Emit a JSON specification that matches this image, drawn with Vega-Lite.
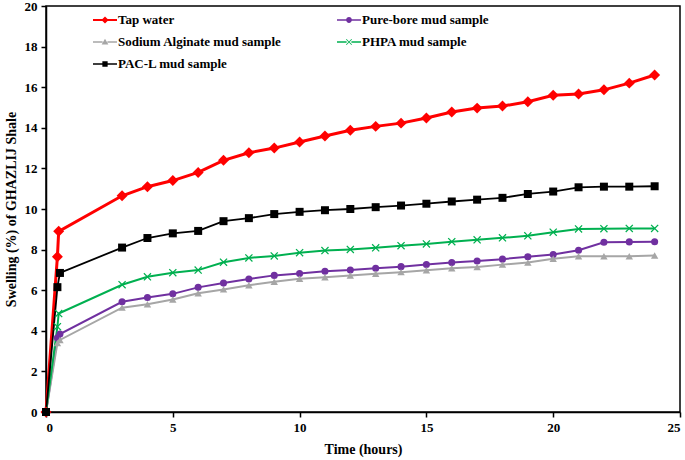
{
  "$schema": "https://vega.github.io/schema/vega-lite/v6.json",
  "width": 634,
  "height": 406,
  "autosize": "none",
  "padding": {"left": 46, "top": 6, "right": 5, "bottom": 48},
  "config": {
    "view": {"stroke": "#000", "strokeWidth": 1.5},
    "font": "Liberation Serif"
  },
  "datasets": {
    "swell": [
      {"series": "Tap water", "t": 0, "v": 0}, {"series": "Tap water", "t": 0.45, "v": 7.65}, {"series": "Tap water", "t": 0.5, "v": 8.9},
      {"series": "Tap water", "t": 3, "v": 10.65}, {"series": "Tap water", "t": 4, "v": 11.1}, {"series": "Tap water", "t": 5, "v": 11.4},
      {"series": "Tap water", "t": 6, "v": 11.8}, {"series": "Tap water", "t": 7, "v": 12.4}, {"series": "Tap water", "t": 8, "v": 12.77},
      {"series": "Tap water", "t": 9, "v": 13.0}, {"series": "Tap water", "t": 10, "v": 13.3}, {"series": "Tap water", "t": 11, "v": 13.6},
      {"series": "Tap water", "t": 12, "v": 13.88}, {"series": "Tap water", "t": 13, "v": 14.07}, {"series": "Tap water", "t": 14, "v": 14.23},
      {"series": "Tap water", "t": 15, "v": 14.48}, {"series": "Tap water", "t": 16, "v": 14.78}, {"series": "Tap water", "t": 17, "v": 14.97},
      {"series": "Tap water", "t": 18, "v": 15.07}, {"series": "Tap water", "t": 19, "v": 15.28}, {"series": "Tap water", "t": 20, "v": 15.6},
      {"series": "Tap water", "t": 21, "v": 15.67}, {"series": "Tap water", "t": 22, "v": 15.87}, {"series": "Tap water", "t": 23, "v": 16.2},
      {"series": "Tap water", "t": 24, "v": 16.6},

      {"series": "Pure-bore mud sample", "t": 0, "v": 0}, {"series": "Pure-bore mud sample", "t": 0.45, "v": 3.65}, {"series": "Pure-bore mud sample", "t": 0.55, "v": 3.84},
      {"series": "Pure-bore mud sample", "t": 3, "v": 5.43}, {"series": "Pure-bore mud sample", "t": 4, "v": 5.64}, {"series": "Pure-bore mud sample", "t": 5, "v": 5.82},
      {"series": "Pure-bore mud sample", "t": 6, "v": 6.14}, {"series": "Pure-bore mud sample", "t": 7, "v": 6.35}, {"series": "Pure-bore mud sample", "t": 8, "v": 6.55},
      {"series": "Pure-bore mud sample", "t": 9, "v": 6.73}, {"series": "Pure-bore mud sample", "t": 10, "v": 6.82}, {"series": "Pure-bore mud sample", "t": 11, "v": 6.93},
      {"series": "Pure-bore mud sample", "t": 12, "v": 6.99}, {"series": "Pure-bore mud sample", "t": 13, "v": 7.08}, {"series": "Pure-bore mud sample", "t": 14, "v": 7.16},
      {"series": "Pure-bore mud sample", "t": 15, "v": 7.27}, {"series": "Pure-bore mud sample", "t": 16, "v": 7.36}, {"series": "Pure-bore mud sample", "t": 17, "v": 7.44},
      {"series": "Pure-bore mud sample", "t": 18, "v": 7.53}, {"series": "Pure-bore mud sample", "t": 19, "v": 7.65}, {"series": "Pure-bore mud sample", "t": 20, "v": 7.76},
      {"series": "Pure-bore mud sample", "t": 21, "v": 7.97}, {"series": "Pure-bore mud sample", "t": 22, "v": 8.36}, {"series": "Pure-bore mud sample", "t": 23, "v": 8.38},
      {"series": "Pure-bore mud sample", "t": 24, "v": 8.39},

      {"series": "Sodium Alginate mud sample", "t": 0, "v": 0}, {"series": "Sodium Alginate mud sample", "t": 0.45, "v": 3.4}, {"series": "Sodium Alginate mud sample", "t": 0.55, "v": 3.55},
      {"series": "Sodium Alginate mud sample", "t": 3, "v": 5.14}, {"series": "Sodium Alginate mud sample", "t": 4, "v": 5.31}, {"series": "Sodium Alginate mud sample", "t": 5, "v": 5.54},
      {"series": "Sodium Alginate mud sample", "t": 6, "v": 5.85}, {"series": "Sodium Alginate mud sample", "t": 7, "v": 6.04}, {"series": "Sodium Alginate mud sample", "t": 8, "v": 6.24},
      {"series": "Sodium Alginate mud sample", "t": 9, "v": 6.42}, {"series": "Sodium Alginate mud sample", "t": 10, "v": 6.56}, {"series": "Sodium Alginate mud sample", "t": 11, "v": 6.64},
      {"series": "Sodium Alginate mud sample", "t": 12, "v": 6.72}, {"series": "Sodium Alginate mud sample", "t": 13, "v": 6.81}, {"series": "Sodium Alginate mud sample", "t": 14, "v": 6.89},
      {"series": "Sodium Alginate mud sample", "t": 15, "v": 6.98}, {"series": "Sodium Alginate mud sample", "t": 16, "v": 7.08}, {"series": "Sodium Alginate mud sample", "t": 17, "v": 7.14},
      {"series": "Sodium Alginate mud sample", "t": 18, "v": 7.26}, {"series": "Sodium Alginate mud sample", "t": 19, "v": 7.36}, {"series": "Sodium Alginate mud sample", "t": 20, "v": 7.55},
      {"series": "Sodium Alginate mud sample", "t": 21, "v": 7.67}, {"series": "Sodium Alginate mud sample", "t": 22, "v": 7.67}, {"series": "Sodium Alginate mud sample", "t": 23, "v": 7.67},
      {"series": "Sodium Alginate mud sample", "t": 24, "v": 7.71},

      {"series": "PHPA mud sample", "t": 0, "v": 0}, {"series": "PHPA mud sample", "t": 0.45, "v": 4.2}, {"series": "PHPA mud sample", "t": 0.5, "v": 4.85},
      {"series": "PHPA mud sample", "t": 3, "v": 6.27}, {"series": "PHPA mud sample", "t": 4, "v": 6.66}, {"series": "PHPA mud sample", "t": 5, "v": 6.86},
      {"series": "PHPA mud sample", "t": 6, "v": 6.99}, {"series": "PHPA mud sample", "t": 7, "v": 7.38}, {"series": "PHPA mud sample", "t": 8, "v": 7.59},
      {"series": "PHPA mud sample", "t": 9, "v": 7.69}, {"series": "PHPA mud sample", "t": 10, "v": 7.85}, {"series": "PHPA mud sample", "t": 11, "v": 7.95},
      {"series": "PHPA mud sample", "t": 12, "v": 8.01}, {"series": "PHPA mud sample", "t": 13, "v": 8.09}, {"series": "PHPA mud sample", "t": 14, "v": 8.19},
      {"series": "PHPA mud sample", "t": 15, "v": 8.28}, {"series": "PHPA mud sample", "t": 16, "v": 8.39}, {"series": "PHPA mud sample", "t": 17, "v": 8.48},
      {"series": "PHPA mud sample", "t": 18, "v": 8.58}, {"series": "PHPA mud sample", "t": 19, "v": 8.68}, {"series": "PHPA mud sample", "t": 20, "v": 8.86},
      {"series": "PHPA mud sample", "t": 21, "v": 9.02}, {"series": "PHPA mud sample", "t": 22, "v": 9.03}, {"series": "PHPA mud sample", "t": 23, "v": 9.04},
      {"series": "PHPA mud sample", "t": 24, "v": 9.04},

      {"series": "PAC-L mud sample", "t": 0, "v": 0}, {"series": "PAC-L mud sample", "t": 0.45, "v": 6.15}, {"series": "PAC-L mud sample", "t": 0.55, "v": 6.85},
      {"series": "PAC-L mud sample", "t": 3, "v": 8.1}, {"series": "PAC-L mud sample", "t": 4, "v": 8.57}, {"series": "PAC-L mud sample", "t": 5, "v": 8.8},
      {"series": "PAC-L mud sample", "t": 6, "v": 8.92}, {"series": "PAC-L mud sample", "t": 7, "v": 9.4}, {"series": "PAC-L mud sample", "t": 8, "v": 9.55},
      {"series": "PAC-L mud sample", "t": 9, "v": 9.75}, {"series": "PAC-L mud sample", "t": 10, "v": 9.86}, {"series": "PAC-L mud sample", "t": 11, "v": 9.94},
      {"series": "PAC-L mud sample", "t": 12, "v": 10.0}, {"series": "PAC-L mud sample", "t": 13, "v": 10.09}, {"series": "PAC-L mud sample", "t": 14, "v": 10.17},
      {"series": "PAC-L mud sample", "t": 15, "v": 10.26}, {"series": "PAC-L mud sample", "t": 16, "v": 10.37}, {"series": "PAC-L mud sample", "t": 17, "v": 10.46},
      {"series": "PAC-L mud sample", "t": 18, "v": 10.55}, {"series": "PAC-L mud sample", "t": 19, "v": 10.74}, {"series": "PAC-L mud sample", "t": 20, "v": 10.86},
      {"series": "PAC-L mud sample", "t": 21, "v": 11.07}, {"series": "PAC-L mud sample", "t": 22, "v": 11.1}, {"series": "PAC-L mud sample", "t": 23, "v": 11.1},
      {"series": "PAC-L mud sample", "t": 24, "v": 11.12}
    ]
  },
  "data": {"name": "swell"},
  "resolve": {"legend": {"color": "independent"}},
  "encoding": {
    "x": {
      "field": "t", "type": "quantitative",
      "scale": {"domain": [0, 25], "nice": false, "zero": false},
      "axis": {
        "title": "Time (hours)", "values": [0, 5, 10, 15, 20, 25], "grid": false,
        "domainColor": "#000", "domainWidth": 1.5, "tickColor": "#000", "tickWidth": 1.5, "tickSize": 5,
        "labelFont": "Liberation Serif", "labelFontWeight": "bold", "labelFontSize": 13, "labelColor": "#000", "labelPadding": 4,
        "titleFont": "Liberation Serif", "titleFontWeight": "bold", "titleFontSize": 14, "titleColor": "#000", "titlePadding": 8
      }
    },
    "y": {
      "field": "v", "type": "quantitative",
      "scale": {"domain": [0, 20], "nice": false},
      "axis": {
        "title": "Swelling (%) of GHAZLIJ Shale", "values": [0, 2, 4, 6, 8, 10, 12, 14, 16, 18, 20], "grid": false,
        "domainColor": "#000", "domainWidth": 1.5, "tickColor": "#000", "tickWidth": 1.5, "tickSize": 5,
        "labelFont": "Liberation Serif", "labelFontWeight": "bold", "labelFontSize": 13, "labelColor": "#000", "labelPadding": 4,
        "titleFont": "Liberation Serif", "titleFontWeight": "bold", "titleFontSize": 14, "titleColor": "#000", "titlePadding": 6
      }
    }
  },
  "layer": [
    {
      "mark": {"type": "line"},
      "encoding": {
        "color": {
          "field": "series", "type": "nominal", "legend": null,
          "scale": {
            "domain": ["Tap water", "Pure-bore mud sample", "Sodium Alginate mud sample", "PHPA mud sample", "PAC-L mud sample"],
            "range": ["#FF0000", "#7030A0", "#A6A6A6", "#00B050", "#000000"]
          }
        },
        "strokeWidth": {
          "field": "series", "type": "nominal", "legend": null,
          "scale": {
            "type": "ordinal",
            "domain": ["Tap water", "Pure-bore mud sample", "Sodium Alginate mud sample", "PHPA mud sample", "PAC-L mud sample"],
            "range": [3, 2, 2, 2, 1.8]
          }
        }
      }
    },
    {
      "mark": {"type": "point", "filled": true, "opacity": 1, "strokeWidth": 0},
      "encoding": {
        "shape": {
          "field": "series", "type": "nominal", "legend": null,
          "scale": {
            "domain": ["Tap water", "Pure-bore mud sample", "Sodium Alginate mud sample", "PHPA mud sample", "PAC-L mud sample"],
            "range": ["diamond", "circle", "triangle-up", "M-1,-0.78L-0.78,-1L0,-0.22L0.78,-1L1,-0.78L0.22,0L1,0.78L0.78,1L0,0.22L-0.78,1L-1,0.78L-0.22,0Z", "square"]
          }
        },
        "size": {
          "field": "series", "type": "nominal", "legend": null,
          "scale": {
            "type": "ordinal",
            "domain": ["Tap water", "Pure-bore mud sample", "Sodium Alginate mud sample", "PHPA mud sample", "PAC-L mud sample"],
            "range": [120, 50, 55, 64, 64]
          }
        },
        "color": {
          "field": "series", "type": "nominal",
          "scale": {
            "domain": ["Tap water", "Pure-bore mud sample", "Sodium Alginate mud sample", "PHPA mud sample", "PAC-L mud sample"],
            "range": ["#FF0000", "#7030A0", "#A6A6A6", "#00B050", "#000000"]
          },
          "legend": {
            "title": null, "orient": "none", "legendX": 47, "legendY": 2, "columns": 2,
            "values": ["Tap water", "Sodium Alginate mud sample", "PAC-L mud sample", "Pure-bore mud sample", "PHPA mud sample"],
            "columnPadding": 55, "rowPadding": 3, "padding": 0,
            "symbolSize": 576, "symbolStrokeWidth": 0, "symbolOpacity": 1,
            "labelFont": "Liberation Serif", "labelFontWeight": "bold", "labelFontSize": 13, "labelColor": "#000",
            "labelOffset": 1, "labelLimit": 400,
            "encoding": {
              "symbols": {
                "shape": {"value": {"expr": "datum.value === 'Tap water' ? 'M-1,-0.09H-0.2V0.09H-1Z M0.2,-0.09H1V0.09H0.2Z M0,-0.3L0.3,0L0,0.3L-0.3,0Z' : datum.value === 'Pure-bore mud sample' ? 'M-1,-0.07H-0.2V0.07H-1Z M0.2,-0.07H1V0.07H0.2Z M-0.24,0A0.24,0.24 0 1,1 0.24,0A0.24,0.24 0 1,1 -0.24,0Z' : datum.value === 'Sodium Alginate mud sample' ? 'M-1,-0.07H-0.2V0.07H-1Z M0.2,-0.07H1V0.07H0.2Z M0,-0.28L0.28,0.2L-0.28,0.2Z' : datum.value === 'PHPA mud sample' ? 'M-1,-0.07H-0.2V0.07H-1Z M0.2,-0.07H1V0.07H0.2Z M-0.25,-0.2L-0.2,-0.25L0,-0.05L0.2,-0.25L0.25,-0.2L0.05,0L0.25,0.2L0.2,0.25L0,0.05L-0.2,0.25L-0.25,0.2L-0.05,0Z' : 'M-1,-0.07H-0.2V0.07H-1Z M0.2,-0.07H1V0.07H0.2Z M-0.22,-0.22H0.22V0.22H-0.22Z'"}}
              }
            }
          }
        }
      }
    }
  ]
}
